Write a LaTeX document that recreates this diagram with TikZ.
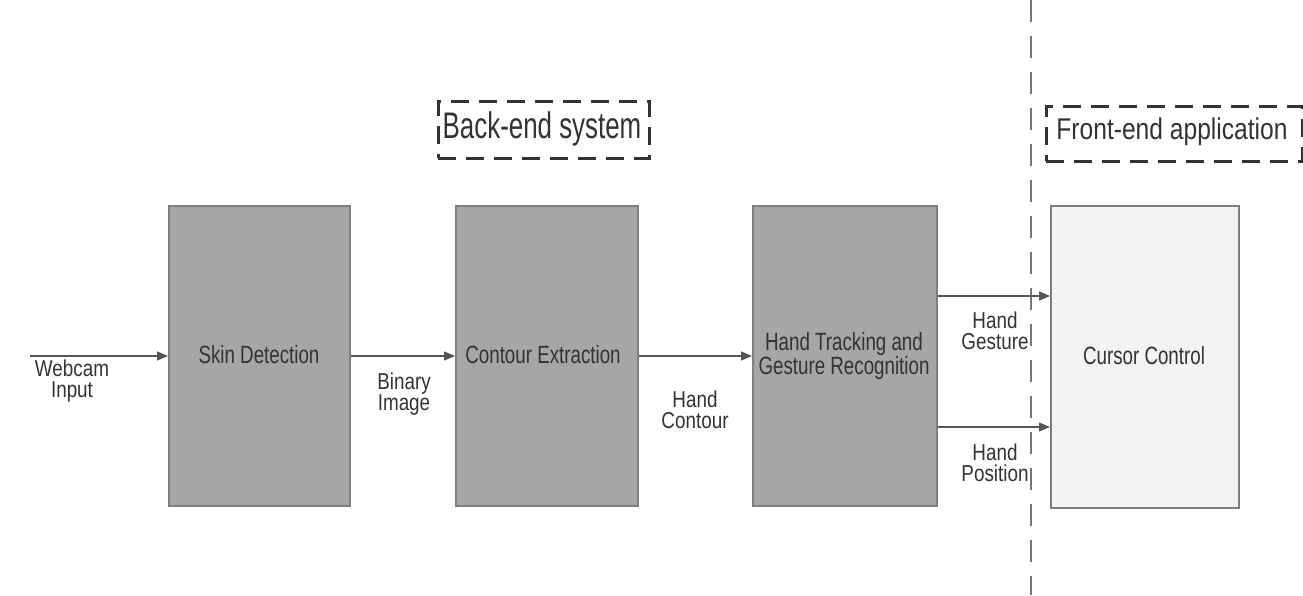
\documentclass[tikz,border=0pt]{standalone}
\usepackage{fontspec}
\setmainfont{Liberation Sans}
\newfontfamily\lab[FakeStretch=0.82]{Liberation Sans}
\newfontfamily\btx[FakeStretch=0.75]{Liberation Sans}
\newfontfamily\hdr[FakeStretch=0.7]{Liberation Sans}
\usetikzlibrary{arrows.meta}
\definecolor{boxfill}{HTML}{A6A6A6}
\definecolor{boxline}{HTML}{7F7F7F}
\definecolor{lightfill}{HTML}{F3F3F3}
\definecolor{linecol}{HTML}{555555}
\definecolor{txt}{HTML}{333333}
\begin{document}
\begin{tikzpicture}[x=1pt,y=-1pt,
  procbox/.style={draw=boxline,line width=1.5pt,fill=boxfill,anchor=north west,inner sep=0pt},
  frontbox/.style={draw=boxline,line width=1.5pt,fill=lightfill,anchor=north west,inner sep=0pt},
  boxtext/.style={font=\btx\fontsize{25}{20}\selectfont,text=txt,align=center},
  labtext/.style={font=\lab\fontsize{23}{21}\selectfont,text=txt,align=center},
  flow/.style={draw=linecol,line width=1.3pt,-{Triangle[length=11pt,width=9pt]}},
  hdrbox/.style={draw=txt,line width=2.5pt,dash pattern=on 18pt off 10pt,inner sep=0pt,anchor=north west}
]
\useasboundingbox (0,0) rectangle (1303,595);
% divider
\coordinate (divtop) at (1031,0);
\coordinate (divbot) at (1031,595);
\draw[linecol!80,line width=1.2pt,dash pattern=on 22pt off 14pt] (divtop) -- (divbot);
% boxes
\node[procbox,minimum width=181pt,minimum height=300pt] (skin) at (168,205) {};
\node[procbox,minimum width=182pt,minimum height=300pt] (cont) at (455,205) {};
\node[procbox,minimum width=184pt,minimum height=300pt] (track) at (752,205) {};
\node[frontbox,minimum width=188pt,minimum height=302pt] (cursor) at (1050,205) {};
% box texts
\node[boxtext] (tskin) at (259,355) {Skin Detection};
\node[boxtext] (tcont) at (543,355) {Contour Extraction};
\node[boxtext] (ttrack) at (844,356) {Hand Tracking and\\Gesture Recognition};
\node[boxtext] (tcursor) at (1144,356) {Cursor Control};
% headers
\node[hdrbox,minimum width=211pt,minimum height=57pt] (backbox) at (437,100) {};
\node[font=\hdr\fontsize{37}{40}\selectfont,text=txt] (backtxt) at (542,129) {Back-end system};
\node[hdrbox,minimum width=256pt,minimum height=55pt] (frontbox) at (1045,105) {};
\node[font=\lab\fontsize{30}{32}\selectfont,text=txt] (fronttxt) at (1172,132) {Front-end application};
% inputs and arrows
\coordinate (webstart) at (30,356);
\draw[flow] (webstart) -- (skin.west |- webstart);
\draw[flow] (skin.east |- webstart) -- (cont.west |- webstart);
\draw[flow] (cont.east |- webstart) -- (track.west |- webstart);
\coordinate (g) at (0,296);
\coordinate (p) at (0,427);
\draw[flow] (track.east |- g) -- (cursor.west |- g);
\draw[flow] (track.east |- p) -- (cursor.west |- p);
% labels
\node[labtext] (lweb) at (72,381) {Webcam\\Input};
\node[labtext] (lbin) at (404,394) {Binary\\Image};
\node[labtext] (lcont) at (695,410) {Hand\\Contour};
\node[labtext] (lgest) at (995,331) {Hand\\Gesture};
\node[labtext] (lpos) at (995,463) {Hand\\Position};
\end{tikzpicture}
\end{document}
